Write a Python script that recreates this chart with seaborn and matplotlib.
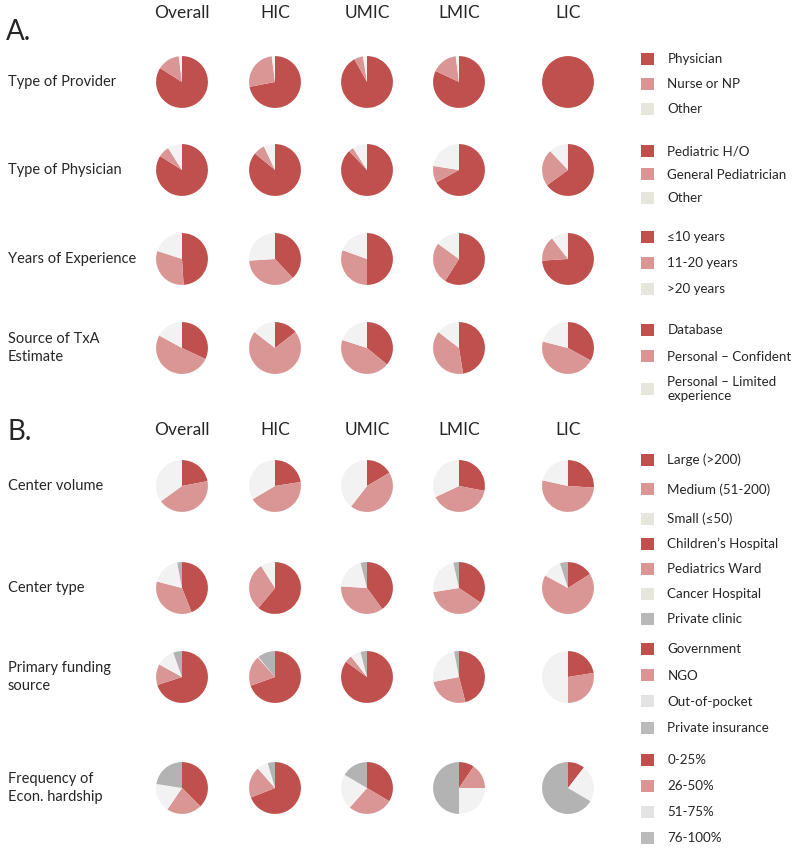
"""
Pie grid: provider survey and center characteristics by income group
"""
import matplotlib
matplotlib.use("Agg")
import matplotlib.pyplot as plt
import seaborn as sns
from matplotlib.patches import Patch

sns.set_theme(style="white")
plt.rcParams['font.family'] = ['Lato', 'DejaVu Sans']

# Columns (income groups)
groups = ['Overall', 'HIC', 'UMIC', 'LMIC', 'LIC']

# Panel A - share (%) per category, one list per income group
provider = [[84, 14, 2], [72, 26, 2], [92, 5.5, 2.5], [82, 16, 2], [100, 0, 0]]
physician = [[84, 7, 9], [86, 7, 7], [88, 3, 9], [67, 10.5, 22.5], [65, 23, 12]]
experience = [[49, 31, 20], [38, 36, 26], [50, 30.5, 19.5], [59, 26, 15], [74, 15.5, 10.5]]
txa_source = [[32, 51, 17], [14.5, 71, 14.5], [36, 44, 20], [47.5, 38, 14.5], [33, 46, 21]]

# Panel B
center_volume = [[22, 43, 35], [22.5, 44, 33.5], [16.5, 44, 39.5], [28, 40, 32], [26, 52.5, 21.5]]
center_type = [[44, 35, 18, 3], [61, 30, 9, 0], [40, 36, 20, 4], [34.5, 38, 24, 3.5], [16, 67, 12, 5]]
funding = [[70, 13, 11.5, 5.5], [69.5, 19, 0.5, 11], [85, 4.5, 6.5, 4], [46, 26, 25, 3], [22.5, 27.5, 50, 0]]
hardship = [[37.5, 22, 18, 22.5], [69, 19.5, 7, 4.5], [33.5, 28, 22, 16.5], [9.5, 15.5, 25, 50], [10.5, 0, 23, 66.5]]

row_labels = ['Type of Provider', 'Type of Physician', 'Years of Experience', 'Source of TxA\nEstimate',
              'Center volume', 'Center type', 'Primary funding\nsource', 'Frequency of\nEcon. hardship']
row_data = [provider, physician, experience, txa_source,
            center_volume, center_type, funding, hardship]

legend_labels = [
    ['Physician', 'Nurse or NP', 'Other'],
    ['Pediatric H/O', 'General Pediatrician', 'Other'],
    ['≤10 years', '11-20 years', '>20 years'],
    ['Database', 'Personal – Confident', 'Personal – Limited\nexperience'],
    ['Large (>200)', 'Medium (51-200)', 'Small (≤50)'],
    ["Children’s Hospital", 'Pediatrics Ward', 'Cancer Hospital', 'Private clinic'],
    ['Government', 'NGO', 'Out-of-pocket', 'Private insurance'],
    ['0-25%', '26-50%', '51-75%', '76-100%'],
]

# Colours
pie_colors = ['#C0504D', '#D99694', '#F2F2F2', '#B3B3B3']
swatch_3 = ['#C0504D', '#D99694', '#E6E6DC']
swatch_4 = ['#C0504D', '#D99694', '#E6E6DC', '#B8B8B8']
swatch_money = ['#C0504D', '#D99694', '#E3E3E3', '#BBBBBB']
legend_colors = [swatch_3, swatch_3, swatch_3, swatch_3, swatch_3, swatch_4, swatch_money, swatch_money]

# Layout (pixels in a 794x850 canvas)
W, H = 794, 850
col_x = [182, 275, 367, 459, 568]
row_y = [82, 170, 259, 348, 486, 588, 677, 788]
legend_y = [84, 174.5, 263, 363, 489.5, 581.5, 688.5, 799]
legend_step = [25, 23.5, 26, 26, 29.5, 25, 26.3, 26]
pie_box = 56

fig = plt.figure(figsize=(W / 100, H / 100), dpi=100)
fig.patch.set_facecolor('white')


def fx(x):
    return x / W


def fy(y):
    return 1 - y / H


# Panel letters and column headers
fig.text(fx(6), fy(32), 'A.', fontsize=20, va='center', ha='left')
fig.text(fx(8), fy(432), 'B.', fontsize=20, va='center', ha='left')
for header_y in [13, 430]:
    for x, g in zip(col_x, groups):
        fig.text(fx(x), fy(header_y), g, fontsize=12.5, ha='center', va='center')

# Pies
for r, (label, data) in enumerate(zip(row_labels, row_data)):
    fig.text(fx(8), fy(row_y[r]), label, fontsize=10.5, ha='left', va='center', linespacing=1.4)
    for c, vals in enumerate(data):
        ax = fig.add_axes([fx(col_x[c] - pie_box / 2), fy(row_y[r] + pie_box / 2),
                           pie_box / W, pie_box / H])
        ax.pie(vals, colors=pie_colors[:len(vals)], startangle=90, counterclock=False,
               wedgeprops=dict(linewidth=0))
        ax.set_xlim(-1.08, 1.08)
        ax.set_ylim(-1.08, 1.08)
        ax.set_aspect('equal')
        ax.axis('off')

# Legends, one per row
legend_fs = 9.6
fs_px = legend_fs * 100 / 72
row_h = 12.5
for labels, colors, y, step in zip(legend_labels, legend_colors, legend_y, legend_step):
    handles = [Patch(facecolor=col, edgecolor='none') for col in colors]
    fig.legend(handles, labels, loc='center left', bbox_to_anchor=(fx(634), fy(y)),
               frameon=False, fontsize=legend_fs, borderpad=0, handlelength=1.0, handleheight=1.0,
               handletextpad=1.0, labelspacing=max((step - row_h) / fs_px, 0.1))

fig.savefig('out.png', dpi=100, facecolor='white')
